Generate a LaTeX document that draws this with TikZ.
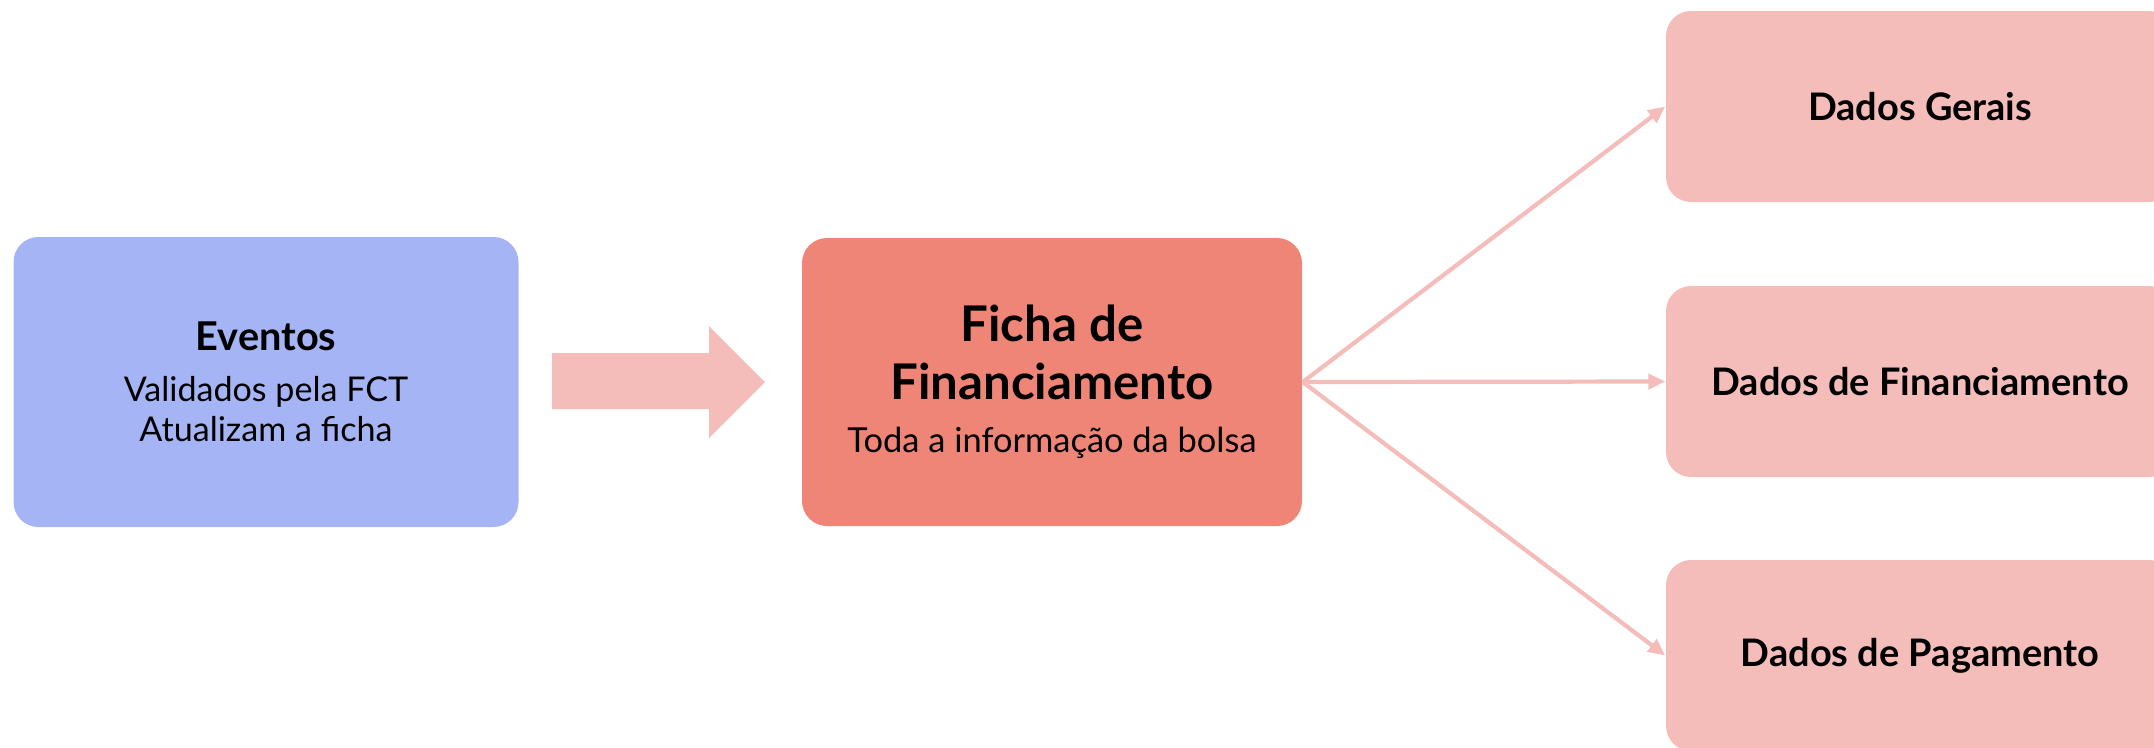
\documentclass[tikz,border=0pt]{standalone}
\usepackage{fontspec}
\setmainfont{Lato}
\usetikzlibrary{arrows.meta}

\definecolor{azulevento}{HTML}{A4B4F4}
\definecolor{salmao}{HTML}{EE8577}
\definecolor{rosaclaro}{HTML}{F4BDBA}

\newcommand{\titulo}[2]{{\fontsize{#1}{#1}\selectfont\bfseries #2}}

\begin{document}
\begin{tikzpicture}[
   caixa/.style={rounded corners=0.25cm,minimum width=5.05cm,minimum height=2.9cm,align=center,inner sep=0pt},
   dados/.style={caixa,fill=rosaclaro,minimum width=5.08cm,minimum height=1.91cm,font=\fontsize{10.8}{12}\selectfont\bfseries},
   ligacao/.style={draw=rosaclaro,line width=1.2pt,-{Triangle[length=0.17cm,width=0.15cm]}}]
   \useasboundingbox (0,0) rectangle (21.54,-7.47);
   \clip (0,0) rectangle (21.54,-7.47);

   \node[caixa,fill=azulevento,font=\fontsize{9.7}{11.5}\selectfont] (eventos) at (2.66,-3.82)
     {\titulo{11.3}{Eventos}\\[3pt]Validados pela FCT\\Atualizam a ficha};
   \node[caixa,fill=salmao,font=\fontsize{9.8}{13}\selectfont,minimum width=5.00cm,minimum height=2.88cm] (ficha) at (10.52,-3.82)
     {\titulo{14}{Ficha de}\\[3.5pt]\titulo{14}{Financiamento}\\[2pt]Toda a informação da bolsa};

   % seta grossa entre eventos e ficha
   \fill[rosaclaro] (5.52,-3.53) -- (7.09,-3.53) -- (7.09,-3.26) -- (7.65,-3.82)
     -- (7.09,-4.38) -- (7.09,-4.09) -- (5.52,-4.09) -- cycle;

   \node[dados] (gerais) at (19.20,-1.065) {Dados Gerais};
   \node[dados] (financ) at (19.20,-3.815) {Dados de Financiamento};
   \node[dados] (pagam) at (19.20,-6.555) {Dados de Pagamento};

   \draw[ligacao] (ficha.east) -- (gerais.west);
   \draw[ligacao] (ficha.east) -- (financ.west);
   \draw[ligacao] (ficha.east) -- (pagam.west);
\end{tikzpicture}
\end{document}
